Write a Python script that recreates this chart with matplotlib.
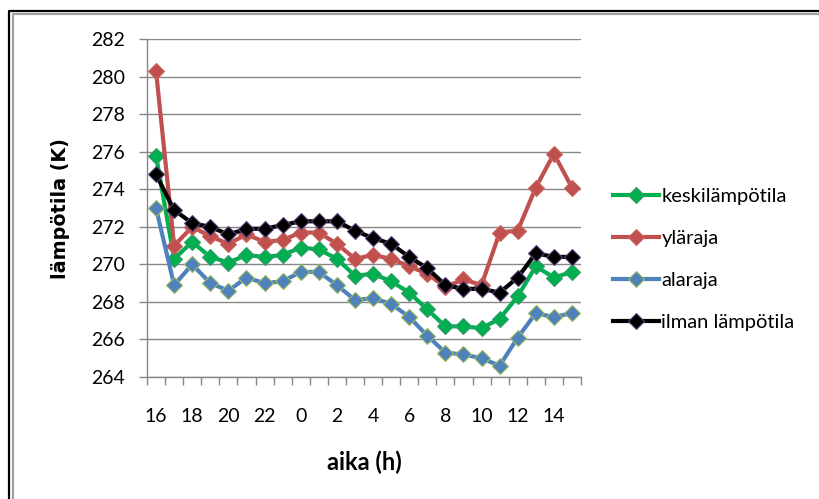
import matplotlib.pyplot as plt
from matplotlib.lines import Line2D
from matplotlib.ticker import FixedLocator, MultipleLocator

# --- Data ---
hours = [16, 17, 18, 19, 20, 21, 22, 23, 0, 1, 2, 3, 4, 5, 6, 7, 8, 9, 10, 11, 12, 13, 14, 15]

keski = [275.8, 270.3, 271.2, 270.4, 270.1, 270.5, 270.4, 270.5, 270.9, 270.8, 270.3, 269.4,
         269.5, 269.1, 268.5, 267.6, 266.7, 266.7, 266.6, 267.1, 268.3, 269.9, 269.3, 269.6]
ylaraja = [280.3, 271.0, 272.0, 271.5, 271.1, 271.6, 271.2, 271.3, 271.7, 271.7, 271.1, 270.3,
           270.5, 270.3, 269.9, 269.5, 268.8, 269.2, 268.9, 271.7, 271.8, 274.1, 275.9, 274.1]
alaraja = [273.0, 268.9, 270.0, 269.0, 268.6, 269.3, 269.0, 269.1, 269.6, 269.6, 268.9, 268.1,
           268.2, 267.9, 267.2, 266.2, 265.3, 265.2, 265.0, 264.6, 266.1, 267.4, 267.2, 267.4]
ilma = [274.8, 272.9, 272.2, 272.0, 271.6, 271.9, 271.9, 272.1, 272.3, 272.3, 272.3, 271.8,
        271.4, 271.1, 270.4, 269.8, 268.9, 268.7, 268.7, 268.5, 269.3, 270.6, 270.4, 270.4]

series = [
    ("keskilämpötila", keski, "#00B050", "#3a9a6a"),
    ("yläraja", ylaraja, "#C0504D", "#c9645f"),
    ("alaraja", alaraja, "#4F81BD", "#9bbb59"),
    ("ilman lämpötila", ilma, "#000000", "#5b3f7a"),
]

plt.rcParams['font.family'] = ['Lato', 'DejaVu Sans']

fig = plt.figure(figsize=(8.19, 4.99), dpi=100)
ax = fig.add_axes([147 / 819, 1 - 377 / 499, 434 / 819, 337.7 / 499])

x = list(range(len(hours)))
for name, vals, col, edge in series:
    ax.plot(x, vals, color=col, lw=3, marker='D', markersize=8.5,
            markerfacecolor=col, markeredgecolor=edge, markeredgewidth=0.8, label=name)

# --- Axes styling (Excel look) ---
ax.set_xlim(-0.5, len(hours) - 0.5)
ax.set_ylim(264, 282)
ax.yaxis.set_major_locator(MultipleLocator(2))
ax.grid(axis='y', color='#878787', lw=1)
ax.set_axisbelow(True)
for side in ['top', 'right']:
    ax.spines[side].set_visible(False)
for side in ['left', 'bottom']:
    ax.spines[side].set_color('#878787')
    ax.spines[side].set_linewidth(1)

ax.set_xticks(x[::2])
ax.set_xticklabels([str(h) for h in hours[::2]])
ax.xaxis.set_minor_locator(FixedLocator([i - 0.5 for i in range(len(hours) + 1)]))
ax.tick_params(axis='x', which='major', length=0, pad=22, labelsize=14)
ax.tick_params(axis='x', which='minor', length=5.5, color='#878787', width=1)
ax.tick_params(axis='y', length=6, color='#878787', width=1, labelsize=14, pad=10)

ax.set_xlabel("aika (h)", fontsize=17, fontweight='bold', va='center')
ax.xaxis.set_label_coords(0.5, -0.252)
ax.set_ylabel("lämpötila (K)", fontsize=13.8, fontweight='bold', family='DejaVu Sans', va='center')
ax.yaxis.set_label_coords(-0.2, 0.5)

leg = ax.legend(loc='center left', bbox_to_anchor=(613 / 819, 1 - 259.5 / 499),
                bbox_transform=fig.transFigure, frameon=False, fontsize=14.5,
                handlelength=2.3, handletextpad=0.1, labelspacing=1.25, borderpad=0,
                borderaxespad=0)

# --- Outer frame ---
fig.add_artist(Line2D([8.5 / 819, 8.5 / 819, 1.0], [0.0, 1 - 10.5 / 499, 1 - 10.5 / 499],
                      transform=fig.transFigure, color='black', lw=1.6))
fig.add_artist(Line2D([12.5 / 819, 12.5 / 819, 1.0], [0.0, 1 - 13.5 / 499, 1 - 13.5 / 499],
                      transform=fig.transFigure, color='#a0a0a0', lw=1.6))

plt.savefig("out.png", dpi=100)
